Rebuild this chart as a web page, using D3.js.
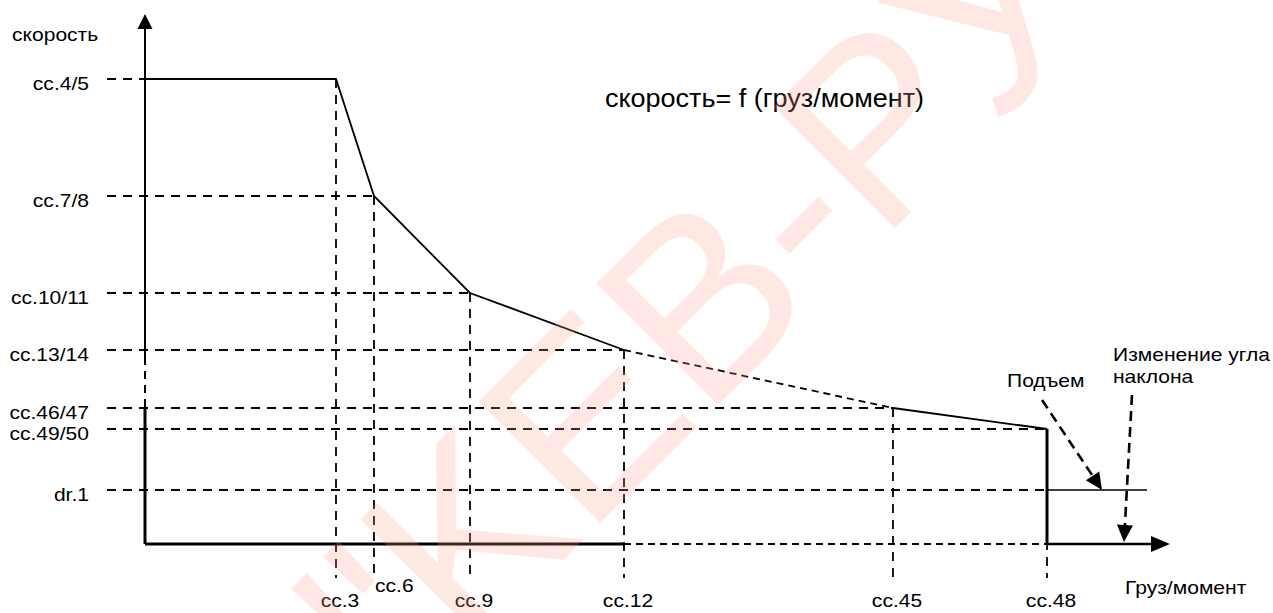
<!DOCTYPE html>
<html><head><meta charset="utf-8">
<script src="https://cdn.jsdelivr.net/npm/d3@7"></script>
<style>
body{margin:0;background:#fff}
svg{display:block}
text{font-family:"Liberation Sans",Arial,sans-serif;fill:#000}
</style>
</head><body>
<svg id="c" width="1273" height="613"></svg>
<script>
// ---- data ----
const speedLabels = ["cc.4/5","cc.7/8","cc.10/11","cc.13/14","cc.46/47","cc.49/50","dr.1"];
const speedValues = [93, 69.6, 50.2, 38.8, 27.2, 23, 10.8];
const loadLabels  = ["cc.3","cc.6","cc.9","cc.12","cc.45","cc.48"];
const loadValues  = [19.1, 22.9, 32.5, 47.9, 74.8, 90.2];
const yAxisTitle = "скорость";
const xAxisTitle = "Груз/момент";
const chartTitle = "скорость= f (груз/момент)";
const liftLabel = "Подъем";
const tiltLabel = ["Изменение угла", "наклона"];
const watermark = "\"KEB-РУ\"";

// ---- scales ----
const svg = d3.select("#c");
const x = d3.scaleLinear().domain([0, 100]).range([145, 1145]);
const y = d3.scaleLinear().domain([0, 100]).range([544, 44]);
const line = d3.line().x(d => x(d[0])).y(d => y(d[1]));

const LBL = 18, SX = 1.17;
function txt(str, px, py, anchor, size, sx) {
  svg.append("text")
    .attr("transform", `translate(${px},${py}) scale(${sx},1)`)
    .attr("text-anchor", anchor)
    .style("font-size", size + "px")
    .text(str);
}
function seg(pts, w, dash) {
  const p = svg.append("path").attr("d", line(pts))
    .attr("fill", "none").attr("stroke", "#000").attr("stroke-width", w);
  if (dash) p.attr("stroke-dasharray", dash);
  return p;
}
const REF = "9,7", SHORT = "7,5";
const last = loadValues.length - 1;

// ---- reference dashed lines ----
speedValues.forEach((v, i) => {
  const li = Math.min(i, last);
  seg([[-3.8, v], [loadValues[li], v]], 1.8, REF);
});
loadValues.forEach((v, i) => {
  seg([[v, speedValues[i]], [v, -6.8]], 1.8, REF);
});

// ---- axes ----
seg([[0, 103], [0, speedValues[3] - 1.4]], 2, null);
seg([[0, speedValues[3] - 1.4], [0, speedValues[4]]], 2, "8,6");
seg([[0, speedValues[4]], [0, 0]], 3, null);
svg.append("path")
  .attr("d", `M${x(0)},${y(106)} L${x(0) - 7.5},${y(103)} L${x(0) + 7.5},${y(103)} Z`)
  .attr("fill", "#000");
seg([[0, 0], [loadValues[3], 0]], 3, null);
seg([[loadValues[3], 0], [loadValues[last], 0]], 2, SHORT);
seg([[loadValues[last], 0], [100.6, 0]], 2.5, null);
svg.append("path")
  .attr("d", `M${x(102.5)},${y(0)} L${x(100.6)},${y(0) - 8} L${x(100.6)},${y(0) + 8} Z`)
  .attr("fill", "#000");

// ---- characteristic curve ----
const pts = [[0, speedValues[0]]].concat(loadValues.map((v, i) => [v, speedValues[i]]));
seg(pts.slice(0, 5), 1.8, null);
seg(pts.slice(4, 6), 1.8, SHORT);
seg(pts.slice(5, 7), 1.8, null);
seg([[loadValues[last], speedValues[last]], [loadValues[last], 0]], 3, null);
seg([[loadValues[last], speedValues[6]], [100.2, speedValues[6]]], 1.6, null);

// ---- annotation arrows ----
function arrow(from, to) {
  const x1 = x(from[0]), y1 = y(from[1]), x2 = x(to[0]), y2 = y(to[1]);
  const a = Math.atan2(y2 - y1, x2 - x1), L = 17, Wd = 8;
  const bx = x2 - L * Math.cos(a), by = y2 - L * Math.sin(a);
  svg.append("line").attr("x1", x1).attr("y1", y1).attr("x2", bx).attr("y2", by)
    .attr("stroke", "#000").attr("stroke-width", 2.6).attr("stroke-dasharray", "10,6");
  const px = -Math.sin(a) * Wd, py = Math.cos(a) * Wd;
  svg.append("path")
    .attr("d", `M${x2},${y2} L${bx + px},${by + py} L${bx - px},${by - py} Z`)
    .attr("fill", "#000");
}
arrow([89.7, 28.8], [95.7, speedValues[6]]);
arrow([98.7, 29.8], [97.9, 0.4]);

// ---- labels ----
speedLabels.forEach((s, i) => txt(s, 89, y(speedValues[i]) + 11, "end", LBL, SX));
loadLabels.forEach((s, i) => {
  const close = i > 0 && x(loadValues[i]) - x(loadValues[i - 1]) < 60;
  if (close) txt(s, x(loadValues[i]) + 1, 592, "start", LBL, SX);
  else txt(s, x(loadValues[i]) + 4, 607, "middle", LBL, SX);
});
txt(yAxisTitle, 12, 41, "start", LBL, SX);
txt(xAxisTitle, 1125, 594, "start", LBL, SX);
txt(liftLabel, 1007, 387, "start", LBL, SX);
txt(tiltLabel[0], 1113, 361, "start", LBL, SX);
txt(tiltLabel[1], 1113, 383, "start", LBL, SX);
txt(chartTitle, 605, 107, "start", 25, 1.08);

// ---- watermark ----
svg.append("text")
  .attr("transform", "translate(405,718) rotate(-45)")
  .style("font-size", "250px")
  .style("fill", "rgba(255,159,142,0.24)")
  .text(watermark);
</script>
</body></html>
